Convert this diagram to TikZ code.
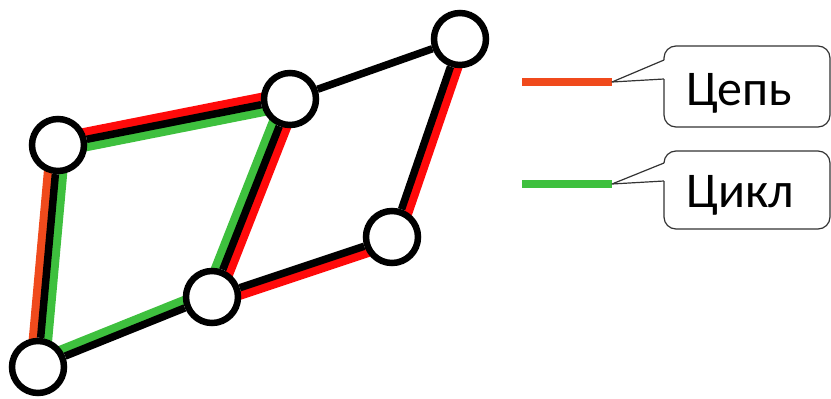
\documentclass[tikz,border=0pt]{standalone}
\usepackage{fontspec}
\setmainfont{Carlito}
\usetikzlibrary{calc,backgrounds}
\definecolor{chainred}{RGB}{255,10,10}
\definecolor{chainorange}{RGB}{240,74,28}
\definecolor{cyclegreen}{RGB}{62,192,62}

\begin{document}
\begin{tikzpicture}[x=1pt,y=-1pt,
  vertex/.style={circle,draw=black,fill=white,line width=6.5pt,minimum size=52pt,inner sep=0pt},
  edge/.style={black,line width=7.5pt},
  trail/.style={line width=8.5pt},
  bubble/.style={black!80,line width=1.2pt,line join=round}]
  \useasboundingbox (0,0) rectangle (831,399);
  % graph
  \node[vertex] (v1) at (58,145) {};
  \node[vertex] (v2) at (290,99) {};
  \node[vertex] (v3) at (460,39) {};
  \node[vertex] (v4) at (392,237) {};
  \node[vertex] (v5) at (212,297) {};
  \node[vertex] (v6) at (38,367) {};
  \begin{scope}[on background layer]
    % chain (red) and cycle (green) beside the edges
    \draw[trail,chainred] ($(v1)!7.5pt!90:(v2)$) -- ($(v2)!7.5pt!-90:(v1)$);
    \draw[trail,chainred] ($(v2)!7.5pt!90:(v5)$) -- ($(v5)!7.5pt!-90:(v2)$);
    \draw[trail,chainred] ($(v5)!7.5pt!-90:(v4)$) -- ($(v4)!7.5pt!90:(v5)$);
    \draw[trail,chainred] ($(v4)!7.5pt!-90:(v3)$) -- ($(v3)!7.5pt!90:(v4)$);
    \draw[trail,chainorange] ($(v1)!7.5pt!-90:(v6)$) -- ($(v6)!7.5pt!90:(v1)$);
    \draw[trail,cyclegreen] ($(v1)!7.5pt!-90:(v2)$) -- ($(v2)!7.5pt!90:(v1)$);
    \draw[trail,cyclegreen] ($(v2)!7.5pt!-90:(v5)$) -- ($(v5)!7.5pt!90:(v2)$);
    \draw[trail,cyclegreen] ($(v1)!7.5pt!90:(v6)$) -- ($(v6)!7.5pt!-90:(v1)$);
    \draw[trail,cyclegreen] ($(v6)!7.5pt!90:(v5)$) -- ($(v5)!7.5pt!-90:(v6)$);
    % edges
    \draw[edge] (v1) -- (v2);
    \draw[edge] (v2) -- (v3);
    \draw[edge] (v3) -- (v4);
    \draw[edge] (v4) -- (v5);
    \draw[edge] (v5) -- (v6);
    \draw[edge] (v6) -- (v1);
    \draw[edge] (v2) -- (v5);
  \end{scope}
  % legend
  \coordinate (chainstart) at (522,82);
  \coordinate (chaintip) at (612,82);
  \coordinate (cyclestart) at (522,184);
  \coordinate (cycletip) at (612,184);
  \draw[chainorange,line width=7.5pt] (chainstart) -- (chaintip);
  \draw[cyclegreen,line width=7.5pt] (cyclestart) -- (cycletip);
  \draw[bubble,rounded corners=12pt] (664,79) -- (664,127) -- (830,127) -- (830,46) -- (664,46) -- (664,60);
  \draw[bubble] (664,60) -- (chaintip) -- (664,79);
  \draw[bubble,rounded corners=12pt] (664,181) -- (664,229) -- (830,229) -- (830,151) -- (664,151) -- (664,163);
  \draw[bubble] (664,163) -- (cycletip) -- (664,181);
  \node[font=\fontsize{50}{60}\selectfont,anchor=base,inner sep=0pt] (chainlabel) at (739,105) {Цепь};
  \node[font=\fontsize{50}{60}\selectfont,anchor=base,inner sep=0pt] (cyclelabel) at (740,207) {Цикл};
\end{tikzpicture}
\end{document}
